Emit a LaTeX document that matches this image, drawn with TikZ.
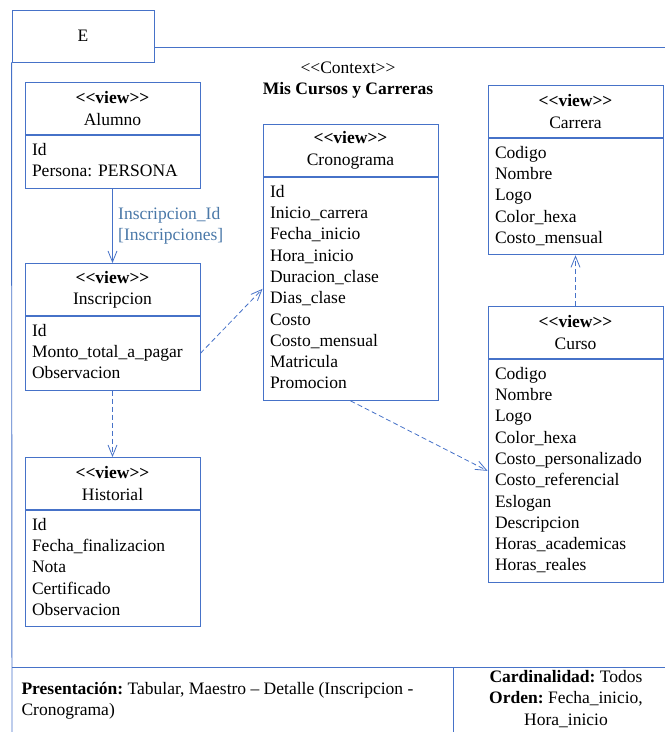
\documentclass[tikz,border=0pt]{standalone}
\usepackage{fontspec}
\setmainfont{Liberation Serif}
\usetikzlibrary{arrows.meta,positioning}
\definecolor{umlblue}{RGB}{70,114,200}
\definecolor{roleblue}{RGB}{74,120,168}
\newcommand{\viewtag}{\textbf{<\kern0pt<view>\kern0pt>}}
\tikzset{
  viewhead/.style={draw=umlblue, line width=0.9pt, minimum width=175pt, minimum height=52pt,
    inner sep=0pt, align=center, anchor=north},
  viewbody/.style={draw=umlblue, line width=0.9pt, text width=161pt, inner xsep=7pt, inner ysep=5pt,
    align=left, below=0pt of #1, execute at begin node=\strut, execute at end node=\strut},
  frameline/.style={draw=umlblue, line width=0.9pt},
  assoc/.style={draw=umlblue, line width=0.8pt, -{Straight Barb[length=11pt,width=9pt]}},
  dep/.style={assoc, dash pattern=on 5pt off 3pt},
  rolelabel/.style={right, xshift=2pt, align=left, text=roleblue}
}

\begin{document}
\frenchspacing
\begin{tikzpicture}[x=1pt, y=-1pt, every node/.style={font=\fontsize{17.5}{21.3}\selectfont\frenchspacing}]
  \useasboundingbox (0,0) rectangle (665,732);

  % package frame
  \node[frameline, draw, minimum width=142pt, minimum height=52pt] (tab) at (83,36) {E};
  \coordinate (rim) at (665,47);
  \coordinate (foot-l) at (12,667);
  \coordinate (foot-r) at (665,667);
  \coordinate (foot-m) at (453,667);
  \draw[frameline] (tab.east |- rim) -- (rim);
  \draw[frameline] (tab.south west) -- (12,732);
  \draw[frameline] (foot-l) -- (foot-r);
  \draw[frameline] (foot-m) -- (453,732);

  \node[align=center] (ctx) at (348,80) {<\kern0pt<Context>\kern0pt>\\\textbf{Mis Cursos y Carreras}};

  % views
  \node[viewhead] (alumno-h) at (112.5,82) {\viewtag\\Alumno};
  \node[viewbody=alumno-h] (alumno) {Id\\Persona: PERSONA};

  \node[viewhead] (inscripcion-h) at (112.5,263) {\viewtag\\Inscripcion};
  \node[viewbody=inscripcion-h] (inscripcion) {Id\\Monto\_total\_a\_pagar\\Observacion};

  \node[viewhead] (historial-h) at (112.5,457) {\viewtag\\Historial};
  \node[viewbody=historial-h] (historial) {Id\\Fecha\_finalizacion\\Nota\\Certificado\\Observacion};

  \node[viewhead] (cronograma-h) at (350.5,124) {\viewtag\\Cronograma};
  \node[viewbody=cronograma-h] (cronograma) {Id\\Inicio\_carrera\\Fecha\_inicio\\Hora\_inicio\\Duracion\_clase\\Dias\_clase\\Costo\\Costo\_mensual\\Matricula\\Promocion};

  \node[viewhead] (carrera-h) at (575.5,85) {\viewtag\\Carrera};
  \node[viewbody=carrera-h] (carrera) {Codigo\\Nombre\\Logo\\Color\_hexa\\Costo\_mensual};

  \node[viewhead] (curso-h) at (575.5,306) {\viewtag\\Curso};
  \node[viewbody=curso-h] (curso) {Codigo\\Nombre\\Logo\\Color\_hexa\\Costo\_personalizado\\Costo\_referencial\\Eslogan\\Descripcion\\Horas\_academicas\\Horas\_reales};

  % links
  \draw[assoc] (alumno.south) -- node[rolelabel] {Inscripcion\_Id\\{[}Inscripciones]} (inscripcion-h.north);
  \draw[dep] (inscripcion.east) -- (cronograma.west);
  \draw[dep] (inscripcion.south) -- (historial-h.north);
  \draw[dep] (cronograma.south) -- (curso.west);
  \draw[dep] (curso-h.north) -- (carrera.south);

  % footer
  \node[anchor=west, align=left] (pres) at (18,701) {\textbf{Presentación:} Tabular, Maestro -- Detalle (Inscripcion -\\Cronograma)};
  \node[align=center] (card) at (566,699) {\textbf{Cardinalidad:} Todos\\\textbf{Orden:} Fecha\_inicio,\\Hora\_inicio};
\end{tikzpicture}
\end{document}
